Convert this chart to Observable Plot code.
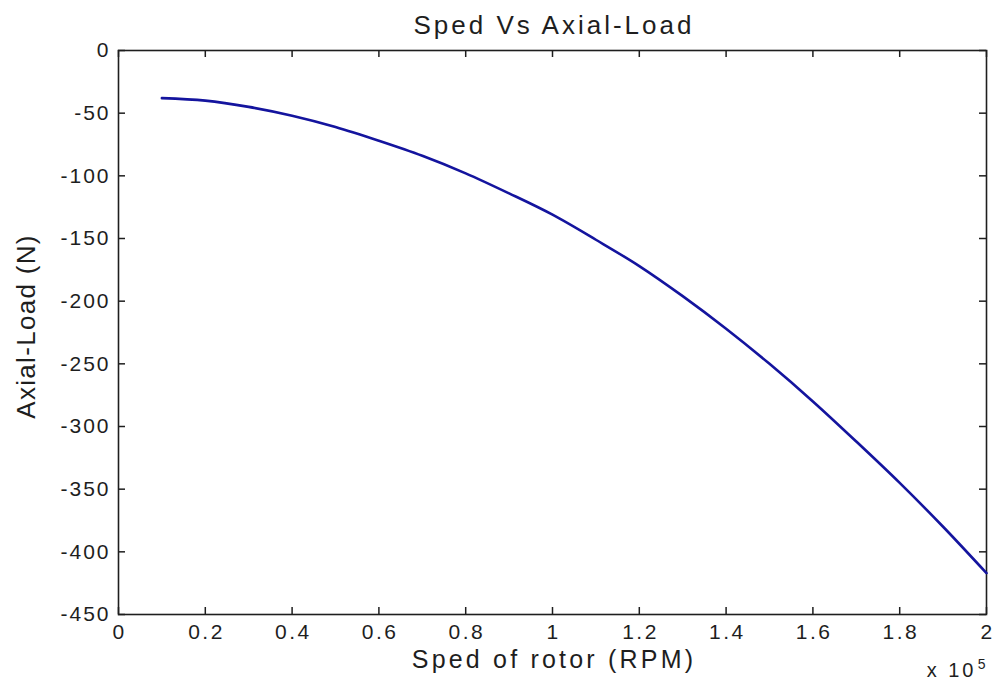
<!DOCTYPE html>
<html><head><meta charset="utf-8">
<script src="https://cdn.jsdelivr.net/npm/d3@7"></script>
<script src="https://cdn.jsdelivr.net/npm/@observablehq/plot@0.6"></script>
<style>body{margin:0;background:#fff}</style>
</head><body><div id="chart"></div>
<script>
// Data (speed in units of 10^5 RPM, axial load in N)
const speed = [0.1,0.2,0.3,0.4,0.5,0.6,0.7,0.8,0.9,1.0,1.1,1.2,1.3,1.4,1.5,1.6,1.7,1.8,1.9,2.0];
const axialLoad = [-38,-40,-45,-52,-61,-72,-84,-98,-114,-131,-151,-172,-196,-222,-250,-280,-312,-345,-380,-417];
const xTicks = [0,0.2,0.4,0.6,0.8,1,1.2,1.4,1.6,1.8,2];
const xTickLabels = ["0","0.2","0.4","0.6","0.8","1","1.2","1.4","1.6","1.8","2"];
const yTicks = [0,-50,-100,-150,-200,-250,-300,-350,-400,-450];
const title = "Sped Vs Axial-Load";
const xLabel = "Sped of rotor (RPM)";
const yLabel = "Axial-Load (N)";
const expBase = "x 10";
const expPower = "5";

const data = speed.map((s, i) => ({speed: s, load: axialLoad[i]}));

const W = 994, H = 682;
const mL = 118, mR = 8, mT = 50, mB = 68;
const fw = W - mL - mR, fh = H - mT - mB;
const tick = 7;
const ink = "#1e1e1e";

const chart = Plot.plot({
  width: W, height: H,
  marginLeft: mL, marginRight: mR, marginTop: mT, marginBottom: mB,
  style: {fontFamily: "'Liberation Sans', Arial, sans-serif", fontSize: "21px", color: ink, background: "#fff"},
  x: {domain: [0, 2]},
  y: {domain: [-450, 0]},
  marks: [
    Plot.axisX(xTicks, {tickSize: 0, tickPadding: 10, tickFormat: (d, i) => xTickLabels[i], fontSize: 21, dx: 1.2, label: null}),
    Plot.axisY(yTicks, {tickSize: 0, tickPadding: 8, tickFormat: d => String(d), fontSize: 21, label: null}),
    Plot.tickX(xTicks, {x: d => d, insetTop: fh - tick, stroke: ink, strokeWidth: 1.5}),
    Plot.tickX(xTicks, {x: d => d, insetBottom: fh - tick, stroke: ink, strokeWidth: 1.5}),
    Plot.tickY(yTicks, {y: d => d, insetRight: fw - tick, stroke: ink, strokeWidth: 1.5}),
    Plot.tickY(yTicks, {y: d => d, insetLeft: fw - tick, stroke: ink, strokeWidth: 1.5}),
    Plot.frame({stroke: ink, strokeWidth: 1.6}),
    Plot.line(data, {x: "speed", y: "load", stroke: "#14149e", strokeWidth: 2.6, curve: "monotone-x"}),
    Plot.text([title], {frameAnchor: "top", dy: -35, dx: 1.5, fontSize: 26, fill: ink, text: d => d}),
    Plot.text([xLabel], {frameAnchor: "bottom", dy: 53, dx: 1.5, fontSize: 25, fill: ink, text: d => d}),
    Plot.text([yLabel], {frameAnchor: "left", textAnchor: "middle", dx: -92, dy: -6, rotate: -90, fontSize: 26, fill: ink, text: d => d}),
    Plot.text([expBase], {frameAnchor: "bottom-right", dx: -10, dy: 62, textAnchor: "end", fontSize: 20, fill: ink, text: d => d}),
    Plot.text([expPower], {frameAnchor: "bottom-right", dx: -1, dy: 54, textAnchor: "end", fontSize: 14, fill: ink, text: d => d})
  ]
});
const svg = d3.select(chart);
const spacingByGroup = {"x-axis tick label": 2.5, "y-axis tick label": 2};
for (const [k, v] of Object.entries(spacingByGroup)) {
  svg.selectAll(`g[aria-label="${k}"] text`).style("letter-spacing", v + "px");
}
const spacingByText = new Map([[title, 3], [xLabel, 3.2], [yLabel, 1.3], [expBase, 3]]);
svg.selectAll("text").each(function () {
  const v = spacingByText.get(this.textContent);
  if (v !== undefined) this.style.letterSpacing = v + "px";
});
document.getElementById("chart").appendChild(chart);
</script>
</body></html>
